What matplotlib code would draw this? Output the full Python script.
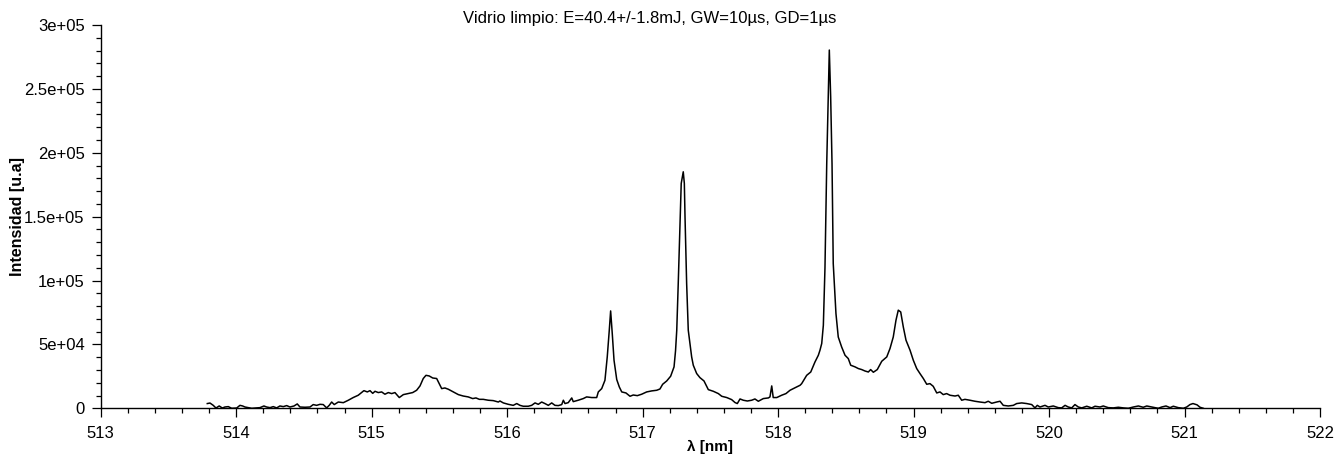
import matplotlib

matplotlib.use("Agg")
import matplotlib.pyplot as plt
from matplotlib.ticker import FixedLocator, MultipleLocator, FixedFormatter

plt.rcParams["font.family"] = ["Liberation Sans", "DejaVu Sans"]

TITLE = "Vidrio limpio: E=40.4+/-1.8mJ, GW=10µs, GD=1µs"
XLABEL = "λ [nm]"
YLABEL = "Intensidad [u.a]"

# spectrum (wavelength in nm, intensity in a.u.)
wavelength = [
    513.787, 513.807, 513.831, 513.851, 513.875, 513.898, 513.917, 513.942, 513.967, 514.004,
    514.028, 514.048, 514.065, 514.089, 514.115, 514.151, 514.176, 514.205, 514.225, 514.250,
    514.274, 514.299, 514.323, 514.348, 514.373, 514.397, 514.427, 514.451, 514.471, 514.508,
    514.545, 514.569, 514.594, 514.619, 514.643, 514.668, 514.687, 514.705, 514.724, 514.754,
    514.791, 514.828, 514.864, 514.901, 514.926, 514.943, 514.968, 514.988, 515.008, 515.025,
    515.049, 515.074, 515.098, 515.123, 515.148, 515.172, 515.204, 515.234, 515.270, 515.303,
    515.332, 515.357, 515.381, 515.401, 515.425, 515.451, 515.480, 515.499, 515.517, 515.541,
    515.566, 515.603, 515.640, 515.676, 515.713, 515.746, 515.770, 515.795, 515.824, 515.861,
    515.898, 515.935,
    515.947, 515.972, 516.009, 516.045, 516.071, 516.095, 516.119, 516.156, 516.181, 516.206,
    516.230, 516.255, 516.279, 516.304, 516.329, 516.353, 516.378, 516.403, 516.415, 516.427,
    516.451, 516.477, 516.488, 516.525, 516.562, 516.587, 516.624, 516.661, 516.673, 516.698,
    516.722, 516.739, 516.754, 516.764, 516.776, 516.789, 516.809, 516.828, 516.846, 516.877,
    516.907, 516.931, 516.961, 516.993, 517.030, 517.067, 517.104, 517.128, 517.148, 517.178,
    517.207, 517.232, 517.243, 517.252, 517.263, 517.285, 517.300, 517.308, 517.313, 517.325,
    517.337, 517.362, 517.374, 517.399, 517.423, 517.453, 517.485, 517.522, 517.559, 517.584,
    517.621, 517.657, 517.682, 517.699, 517.719, 517.743, 517.773, 517.805, 517.829, 517.854,
    517.891, 517.928, 517.940, 517.953, 517.964, 517.990, 518.026, 518.058, 518.088, 518.112,
    518.137, 518.162,
    518.174, 518.211, 518.241, 518.272, 518.297, 518.309, 518.322, 518.334, 518.346, 518.359,
    518.370, 518.378, 518.388, 518.398, 518.407, 518.427, 518.444, 518.469, 518.494, 518.518,
    518.536, 518.568, 518.592, 518.617, 518.641, 518.666, 518.683, 518.703, 518.732, 518.765,
    518.802, 518.826, 518.850, 518.870, 518.887, 518.905, 518.924, 518.944, 518.974, 518.998,
    519.023, 519.047, 519.072, 519.097, 519.121, 519.145, 519.171, 519.195, 519.219, 519.244,
    519.269, 519.306, 519.330, 519.355, 519.379, 519.416, 519.453, 519.490, 519.527, 519.551,
    519.577, 519.613, 519.638, 519.662, 519.699, 519.736, 519.761, 519.798, 519.835, 519.872,
    519.896, 519.913, 519.933, 519.970, 519.994, 520.031, 520.068, 520.093, 520.118, 520.142,
    520.167, 520.191, 520.216, 520.241, 520.278, 520.315, 520.339, 520.376, 520.400, 520.437,
    520.474, 520.511, 520.548, 520.585, 520.622, 520.659, 520.695, 520.721, 520.757, 520.782,
    520.806, 520.831, 520.863, 520.893, 520.917, 520.954, 520.991, 521.016, 521.040, 521.062,
    521.092, 521.114, 521.138,
]
intensity = [
    3700, 4100, 2300, 200, 1800, 200, 1000, 1300, 0, 200,
    2300, 1800, 1000, 500, 0, 300, 500, 1800, 1000, 500,
    1300, 300, 1800, 1300, 2100, 1000, 1800, 3400, 1000, 800,
    1000, 2900, 2300, 3100, 2900, 300, 2300, 4900, 2900, 4900,
    4400, 6300, 8400, 10200, 12300, 13800, 12800, 13800, 11700, 13300,
    12300, 12800, 11000, 12300, 11500, 12300, 8400, 10700, 11500, 12300,
    14100, 17500, 23300, 25800, 25300, 23700, 23300, 19300, 15400, 15900,
    14900, 12800, 10700, 9600, 8900, 7600, 8100, 7000, 7000, 6300,
    6000, 4900,
    5700, 4200, 3100, 2300, 3700, 2300, 1600, 1600, 2300, 4200,
    3100, 4900, 3700, 2300, 4200, 2300, 2100, 2900, 6300, 3700,
    4400, 8100, 5200, 6300, 7600, 8900, 8400, 8400, 12800, 15400,
    21900, 40200, 61100, 76200, 58500, 37600, 22500, 16700, 12800, 12000,
    9400, 10400, 9900, 11000, 12800, 13600, 14100, 15100, 18800, 21400,
    25100, 32400, 45000, 61100, 97700, 176000, 185100, 176000, 149800, 97700,
    61100, 40200, 33700, 27200, 24000, 21400, 14600, 13300, 11500, 9400,
    8400, 6800, 4500, 3700, 7300, 6300, 5700, 6300, 7300, 5500,
    7600, 8100, 8900, 17500, 8400, 8400, 10200, 11500, 14100, 15400,
    16700, 18000,
    19300, 25800, 28400, 36200, 41500, 45400, 50700, 65000, 110000, 191700,
    243800, 280400, 243800, 191700, 113300, 74200, 55800, 48000, 41500, 38900,
    33700, 32400, 31100, 30300, 29200, 28400, 30300, 28200, 30300, 36800,
    40200, 46800, 55800, 68900, 76800, 75400, 63700, 53300, 45400, 37600,
    31100, 27200, 23300, 18800, 19300, 17200, 12000, 12800, 10700, 11500,
    10200, 9600, 10200, 6300, 7000, 6300, 5500, 4900, 4400, 5500,
    3900, 4900, 5500, 2300, 1800, 2300, 3700, 4200, 3700, 2900,
    300, 2300, 1000, 2300, 1000, 1800, 500, 300, 2300, 1000,
    300, 2900, 1000, 300, 1600, 300, 1600, 1000, 1800, 500,
    300, 800, 300, 0, 1000, 1800, 800, 1800, 1000, 500,
    0, 1000, 1800, 500, 1600, 500, 0, 1000, 2900, 3700,
    2700, 800, 0,
]

y_ticks = [0, 5e4, 1e5, 1.5e5, 2e5, 2.5e5, 3e5]
y_tick_labels = ["0", "5e+04", "1e+05", "1.5e+05", "2e+05", "2.5e+05", "3e+05"]
x_ticks = [513, 514, 515, 516, 517, 518, 519, 520, 521, 522]


def main():
    fig = plt.figure(figsize=(13.35, 4.57), dpi=100)
    ax = fig.add_axes([0.0754, 0.1066, 0.9134, 0.8387])

    ax.plot(wavelength, intensity, color="black", lw=1.1)

    ax.set_xlim(513, 522)
    ax.set_ylim(0, 3e5)

    ax.xaxis.set_major_locator(FixedLocator(x_ticks))
    ax.xaxis.set_minor_locator(MultipleLocator(0.2))
    ax.yaxis.set_major_locator(FixedLocator(y_ticks))
    ax.yaxis.set_major_formatter(FixedFormatter(y_tick_labels))
    ax.yaxis.set_minor_locator(MultipleLocator(1e4))

    for side in ("top", "right"):
        ax.spines[side].set_visible(False)
    for side in ("left", "bottom"):
        ax.spines[side].set_linewidth(1.0)

    ax.tick_params(which="major", length=6.5, width=0.9, labelsize=12, pad=5)
    ax.tick_params(axis="x", which="major", pad=6)
    ax.tick_params(which="minor", length=3.6, width=0.9)

    ax.set_xlabel(XLABEL, fontsize=11, fontweight="bold")
    ax.set_ylabel(YLABEL, fontsize=11.5, fontweight="bold")
    ax.xaxis.set_label_coords(0.5, -0.083)
    ax.yaxis.set_label_coords(-0.0617, 0.5)

    fig.text(0.487, 1 - 18 / 457, TITLE, ha="center", va="center", fontsize=12)

    fig.savefig("out.png", dpi=100)
    plt.close(fig)


if __name__ == "__main__":
    main()
